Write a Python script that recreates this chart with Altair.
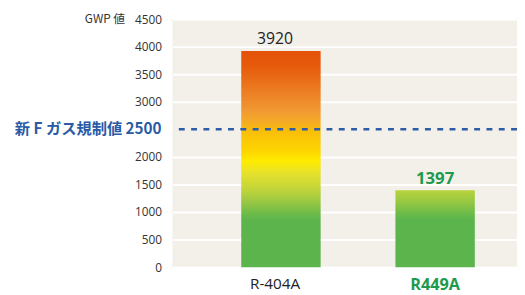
import altair as alt
import pandas as pd

categories = ["R-404A", "R449A"]
gwp_values = [3920, 1397]
value_labels = ["3920", "1397"]
y_ticks = [0, 500, 1000, 1500, 2000, 3000, 3500, 4000, 4500]
limit_value = 2500
limit_label = "新 F ガス規制値 2500"
y_title = "GWP 値"

df = pd.DataFrame({"cat": categories, "val": gwp_values, "lab": value_labels})

grad1 = alt.Gradient(
    gradient="linear", x1=0, x2=0, y1=0, y2=1,
    stops=[
        alt.GradientStop(offset=0.0, color="#E4520A"),
        alt.GradientStop(offset=0.07, color="#E65A0C"),
        alt.GradientStop(offset=0.185, color="#EC7D22"),
        alt.GradientStop(offset=0.28, color="#F19A33"),
        alt.GradientStop(offset=0.335, color="#F5AE22"),
        alt.GradientStop(offset=0.37, color="#F8BE0A"),
        alt.GradientStop(offset=0.46, color="#FDD500"),
        alt.GradientStop(offset=0.51, color="#FFEB00"),
        alt.GradientStop(offset=0.56, color="#E8E22A"),
        alt.GradientStop(offset=0.63, color="#C7D638"),
        alt.GradientStop(offset=0.69, color="#A0C942"),
        alt.GradientStop(offset=0.745, color="#72BD48"),
        alt.GradientStop(offset=0.785, color="#5BB54C"),
        alt.GradientStop(offset=1.0, color="#5BB54C"),
    ],
)
grad2 = alt.Gradient(
    gradient="linear", x1=0, x2=0, y1=0, y2=1,
    stops=[
        alt.GradientStop(offset=0.0, color="#B8D33C"),
        alt.GradientStop(offset=0.15, color="#98C843"),
        alt.GradientStop(offset=0.28, color="#72BD48"),
        alt.GradientStop(offset=0.38, color="#5BB54C"),
        alt.GradientStop(offset=1.0, color="#5BB54C"),
    ],
)

x_enc = alt.X(
    "cat:N", sort=categories,
    scale=alt.Scale(paddingInner=0.485, paddingOuter=0.36, align=0.62),
    axis=alt.Axis(
        title=None, domain=False, ticks=False, labelAngle=0, labelPadding=10,
        labelFont="Open Sans", labelOverlap=False,
        labelColor={"condition": {"test": "datum.label == 'R449A'", "value": "#1E9A4E"}, "value": "#222222"},
        labelFontWeight={"condition": {"test": "datum.label == 'R449A'", "value": "bold"}, "value": "normal"},
        labelFontSize={"condition": {"test": "datum.label == 'R449A'", "value": 16.5}, "value": 15.5},
        labelOffset={"condition": {"test": "datum.label == 'R-404A'", "value": -6}, "value": 0},
    ),
)
y_enc = alt.Y(
    "val:Q",
    scale=alt.Scale(domain=[0, 4500], nice=False),
    axis=alt.Axis(
        title=None, values=y_ticks, format="d", domain=False, ticks=False,
        labelPadding=11, labelFontSize=12, labelColor="#333333", labelFont="Open Sans",
        labelOverlap=False, grid=True, gridColor="#FFFFFF", gridWidth=2, gridOpacity=1,
    ),
)

base = alt.Chart(df)

bar1 = base.transform_filter(alt.datum.cat == categories[0]).mark_bar(color=grad1).encode(x=x_enc, y=y_enc)
bar2 = base.transform_filter(alt.datum.cat == categories[1]).mark_bar(color=grad2).encode(x=x_enc, y=y_enc)

txt1 = base.transform_filter(alt.datum.cat == categories[0]).mark_text(
    baseline="alphabetic", dy=-7, dx=-6, fontSize=16, font="Open Sans", color="#222222"
).encode(x=x_enc, y=y_enc, text="lab:N")
txt2 = base.transform_filter(alt.datum.cat == categories[1]).mark_text(
    baseline="alphabetic", dy=-6, fontSize=17, font="Open Sans", fontWeight="bold", color="#1E9A4E"
).encode(x=x_enc, y=y_enc, text="lab:N")

lim_df = pd.DataFrame({"val": [limit_value], "lab": [limit_label]})
rule = alt.Chart(lim_df).mark_rule(color="#2D5CA8", strokeWidth=2.5, strokeDash=[6, 6.5]).encode(
    y=y_enc
)
lim_text = alt.Chart(lim_df).mark_text(
    align="right", baseline="middle", fontSize=15.5, fontWeight="bold",
    font="Noto Sans CJK JP", color="#2A5AA6"
).encode(x=alt.value(-11), y=y_enc, text="lab:N")

title_df = pd.DataFrame({"val": [4500], "lab": [y_title]})
title_text = alt.Chart(title_df).mark_text(
    align="right", baseline="middle", fontSize=12, font="Noto Sans CJK JP", color="#333333"
).encode(x=alt.value(-48), y=y_enc, text="lab:N")

chart = alt.layer(bar1, bar2, rule, txt1, txt2, lim_text, title_text).properties(
    width=350, height=252,
    autosize=alt.AutoSizeParams(type="none"),
    padding={"left": 167, "top": 9, "right": 0, "bottom": 26},
).configure(
    background="#FFFFFF",
    view=alt.ViewConfig(fill="#F3F0EA", stroke=None),
)

chart.save("out.html", embed_options={"renderer": "svg", "actions": False})
